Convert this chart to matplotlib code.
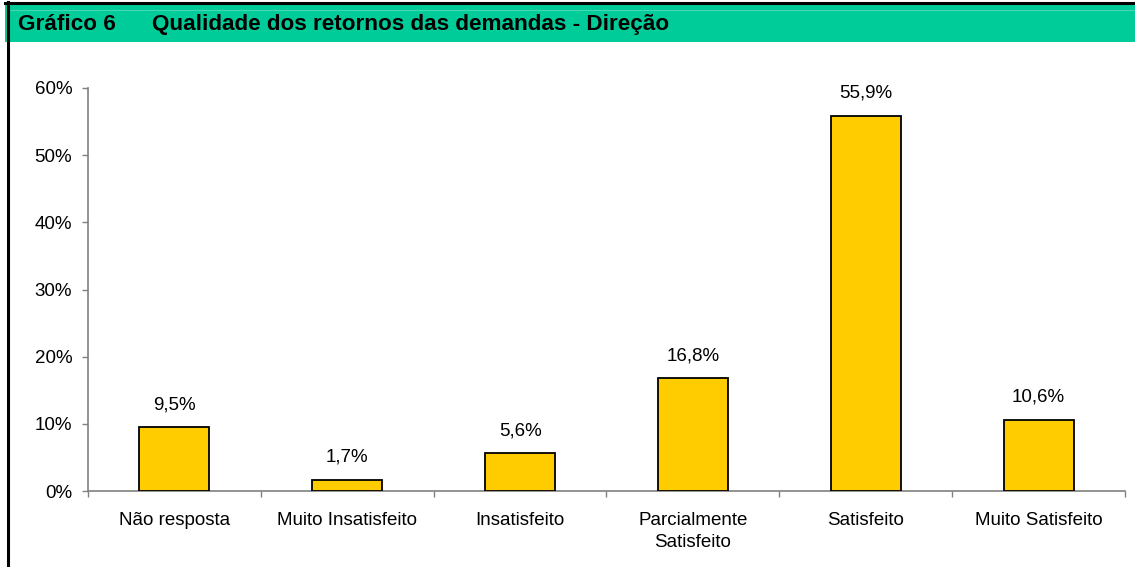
import matplotlib
matplotlib.use("Agg")
import matplotlib.pyplot as plt
from matplotlib.patches import Rectangle
from matplotlib.lines import Line2D
import numpy as np

categories = ["Não resposta", "Muito Insatisfeito", "Insatisfeito",
              "Parcialmente\nSatisfeito", "Satisfeito", "Muito Satisfeito"]
values = [9.5, 1.7, 5.6, 16.8, 55.9, 10.6]
yticks = [0, 10, 20, 30, 40, 50, 60]
title_num = "Gráfico 6"
title_txt = "Qualidade dos retornos das demandas - Direção"

plt.rcParams['font.family'] = ['Liberation Sans', 'DejaVu Sans']

W, H = 1135, 567
fig = plt.figure(figsize=(W/100, H/100), dpi=100)

# header band
fig.patches.append(Rectangle((5/W, 1-41.5/H), 1-5/W, 37.5/H, transform=fig.transFigure,
                             facecolor="#00CC99", edgecolor="none", zorder=0))
fig.lines.append(Line2D([9/W, 1], [1-9.5/H, 1-9.5/H], transform=fig.transFigure,
                        color="#40D9B3", lw=0.8))
fig.lines.append(Line2D([5/W, 1], [1-3/H, 1-3/H], transform=fig.transFigure,
                        color="black", lw=2.2))
fig.lines.append(Line2D([7.5/W, 7.5/W], [0, 1-2/H], transform=fig.transFigure,
                        color="black", lw=2.2))
fig.text(18/W, 1-24.5/H, title_num, fontsize=16.2, fontweight="bold", va="center", ha="left")
fig.text(152/W, 1-24.5/H, title_txt, fontsize=16.2, fontweight="bold", va="center", ha="left")

ax = fig.add_axes([88/W, 1-491/H, (1125-88)/W, (491-88)/H])
x = np.arange(len(categories))
ax.bar(x, values, width=0.405, color="#FFCC00", edgecolor="black", linewidth=1.3, zorder=3)
for xi, v in zip(x, values):
    ax.annotate(f"{v:.1f}%".replace(".", ","), (xi, v), xytext=(0, 10),
                textcoords="offset points", ha="center", va="bottom", fontsize=13.5)

ax.set_xlim(-0.5, len(categories)-0.5)
ax.set_ylim(0, 60)
ax.set_yticks(yticks)
ax.set_yticklabels([f"{t}%" for t in yticks], fontsize=13.5)
ax.set_xticks(x)
ax.set_xticklabels(categories, fontsize=13.5, linespacing=1.4)
ax.set_xticks(np.arange(len(categories)+1) - 0.5, minor=True)
ax.tick_params(axis="x", which="major", length=0, pad=15)
ax.tick_params(axis="x", which="minor", length=4.5, color="#808080", width=1)
ax.tick_params(axis="y", length=4.3, color="#808080", width=1, pad=7)
for s in ["top", "right"]:
    ax.spines[s].set_visible(False)
for s in ["left", "bottom"]:
    ax.spines[s].set_color("#808080")
    ax.spines[s].set_linewidth(1.2)

fig.savefig("out.png", dpi=100)
